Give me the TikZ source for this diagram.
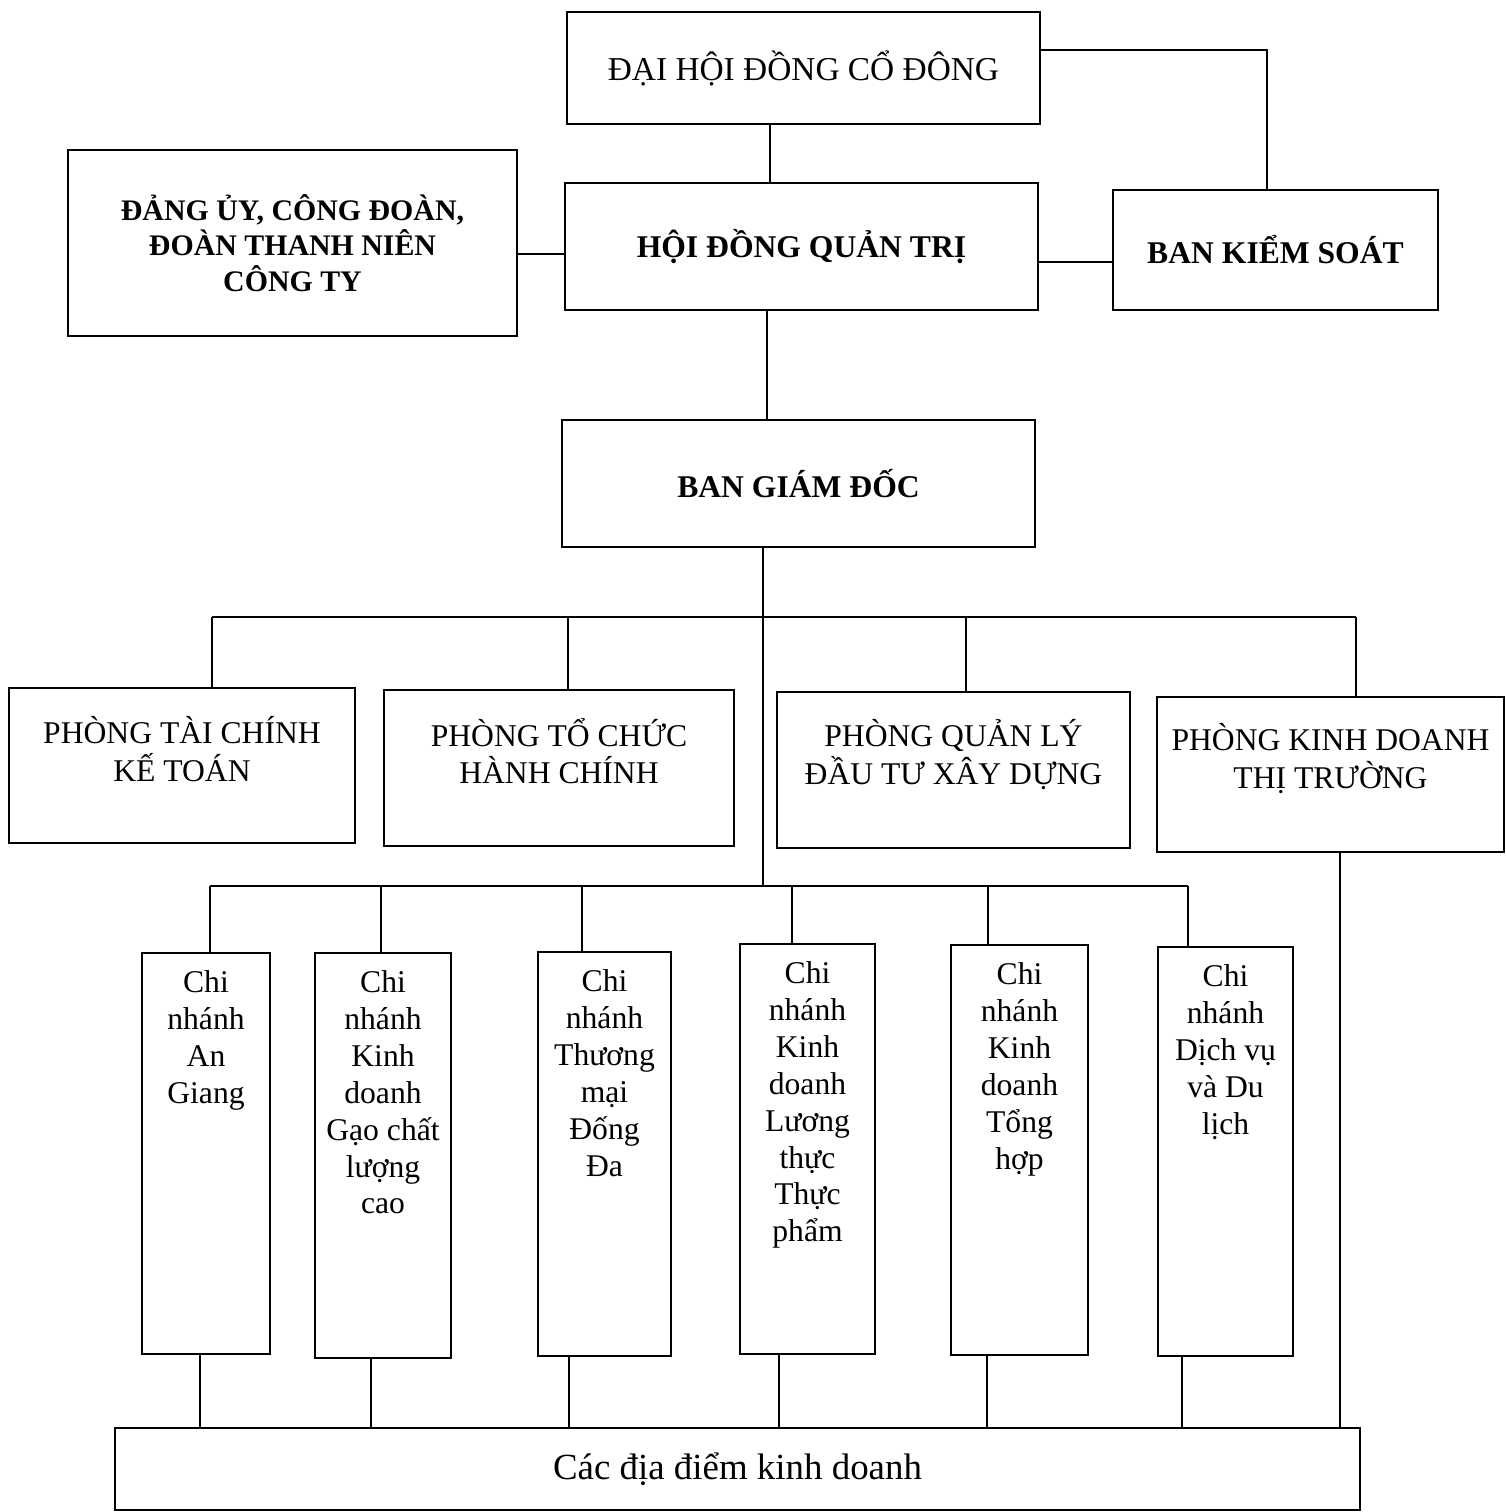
\documentclass[tikz,border=0pt]{standalone}
\usepackage{fontspec}
\setmainfont{Liberation Serif}
\usetikzlibrary{positioning,calc}

\begin{document}
\begin{tikzpicture}[x=0.02cm, y=-0.02cm,
  box/.style={draw, line width=0.9pt, inner sep=0pt},
  bt/.style={font=\fontsize{18}{20.2}\selectfont\bfseries, align=center},
  tt/.style={font=\fontsize{19}{21}\selectfont},
  pt/.style={font=\fontsize{18}{21.5}\selectfont, align=center, inner sep=0pt},
  ct/.style={font=\fontsize{18}{21}\selectfont, align=center, inner sep=0pt},
  ln/.style={line width=0.6pt}]
\useasboundingbox (0,0) rectangle (1506,1512);

% --- top level ---
\node[box, tt, minimum width=9.46cm, minimum height=2.24cm] (dh) at (803.5,68) {ĐẠI HỘI ĐỒNG CỔ ĐÔNG};
\node[box, bt, minimum width=9.46cm, minimum height=2.54cm] (hd) at (801.5,246.5) {HỘI ĐỒNG QUẢN TRỊ};
\node[box, bt, font=\fontsize{17}{20.2}\selectfont\bfseries, minimum width=8.98cm, minimum height=3.72cm] (dang) at (292.5,243)
  {ĐẢNG ỦY, CÔNG ĐOÀN,\\ĐOÀN THANH NIÊN\\CÔNG TY};
\node[box, bt, minimum width=6.5cm, minimum height=2.4cm] (bks) at (1275.5,250) {BAN KIỂM SOÁT};
\node[box, bt, minimum width=9.46cm, minimum height=2.54cm] (bgd) at (798.5,483.5) {BAN GIÁM ĐỐC};

\draw[ln] ([xshift=-0.67cm]dh.south) -- ([xshift=-0.67cm]dh.south |- hd.north);
\draw[ln] ([yshift=0.36cm]dh.east) -| ([xshift=-0.17cm]bks.north);
\draw[ln] ([yshift=-0.22cm]dang.east) -- ([yshift=-0.22cm]dang.east -| hd.west);
\draw[ln] ([yshift=-0.31cm]hd.east) -- ([yshift=-0.31cm]hd.east -| bks.west);
\draw[ln] ([xshift=-0.69cm]hd.south) -- ([xshift=-0.69cm]hd.south |- bgd.north);

% --- departments ---
\node[box, minimum width=6.92cm, minimum height=3.1cm] (ph1) at (182,765.5) {};
\node[box, minimum width=7.0cm, minimum height=3.12cm] (ph2) at (559,768) {};
\node[box, minimum width=7.06cm, minimum height=3.12cm] (ph3) at (953.5,770) {};
\node[box, minimum width=6.94cm, minimum height=3.1cm] (ph4) at (1330.5,774.5) {};
\node[pt] (ph1t) at ($(ph1.north)+(0,-1.24cm)$) {PHÒNG TÀI CHÍNH\\KẾ TOÁN};
\node[pt] (ph2t) at ($(ph2.north)+(0,-1.24cm)$) {PHÒNG TỔ CHỨC\\HÀNH CHÍNH};
\node[pt] (ph3t) at ($(ph3.north)+(0,-1.26cm)$) {PHÒNG QUẢN LÝ\\ĐẦU TƯ XÂY DỰNG};
\node[pt] (ph4t) at ($(ph4.north)+(0,-1.24cm)$) {PHÒNG KINH DOANH\\THỊ TRƯỜNG};

\foreach \x [count=\i] in {212,568,966,1356} \coordinate (ub\i) at (\x,617);
\draw[ln] (ub1) -- (ub4);
\foreach \i in {1,...,4} \draw[ln] (ub\i) -- (ub\i |- ph\i.north);

% --- branches ---
\node[box, minimum width=2.56cm, minimum height=8.02cm] (cn1) at (206,1153.5) {};
\node[box, minimum width=2.72cm, minimum height=8.1cm] (cn2) at (383,1155.5) {};
\node[box, minimum width=2.66cm, minimum height=8.08cm] (cn3) at (604.5,1154) {};
\node[box, minimum width=2.7cm, minimum height=8.2cm] (cn4) at (807.5,1149) {};
\node[box, minimum width=2.74cm, minimum height=8.2cm] (cn5) at (1019.5,1150) {};
\node[box, minimum width=2.7cm, minimum height=8.18cm] (cn6) at (1225.5,1151.5) {};
\node[ct, below=0.36cm of cn1.north] (cn1t) {Chi\\nhánh\\An\\Giang};
\node[ct, below=0.36cm of cn2.north] (cn2t) {Chi\\nhánh\\Kinh\\doanh\\Gạo chất\\lượng\\cao};
\node[ct, below=0.36cm of cn3.north] (cn3t) {Chi\\nhánh\\Thương\\mại\\Đống\\Đa};
\node[ct, below=0.36cm of cn4.north] (cn4t) {Chi\\nhánh\\Kinh\\doanh\\Lương\\thực\\Thực\\phẩm};
\node[ct, below=0.36cm of cn5.north] (cn5t) {Chi\\nhánh\\Kinh\\doanh\\Tổng\\hợp};
\node[ct, below=0.36cm of cn6.north] (cn6t) {Chi\\nhánh\\Dịch vụ\\và Du\\lịch};

\coordinate (tk) at (763,886);
\draw[ln] (tk |- bgd.south) -- (tk);
\foreach \x [count=\i] in {210,381,582,792,988,1188} \coordinate (lb\i) at (\x,886);
\draw[ln] (lb1) -- (lb6);
\foreach \i in {1,...,6} \draw[ln] (lb\i) -- (lb\i |- cn\i.north);

% --- business locations ---
\node[box, minimum width=24.9cm, minimum height=1.64cm, font=\fontsize{21}{24}\selectfont] (dd) at (737.5,1469)
  {Các địa điểm kinh doanh};
\foreach \x [count=\i] in {200,371,569,779,987,1182} \coordinate (bd\i) at (\x,1420);
\foreach \i in {1,...,6} \draw[ln] (bd\i |- cn\i.south) -- (bd\i |- dd.north);
\coordinate (kd) at (1340,1420);
\draw[ln] (kd |- ph4.south) -- (kd |- dd.north);
\end{tikzpicture}
\end{document}
